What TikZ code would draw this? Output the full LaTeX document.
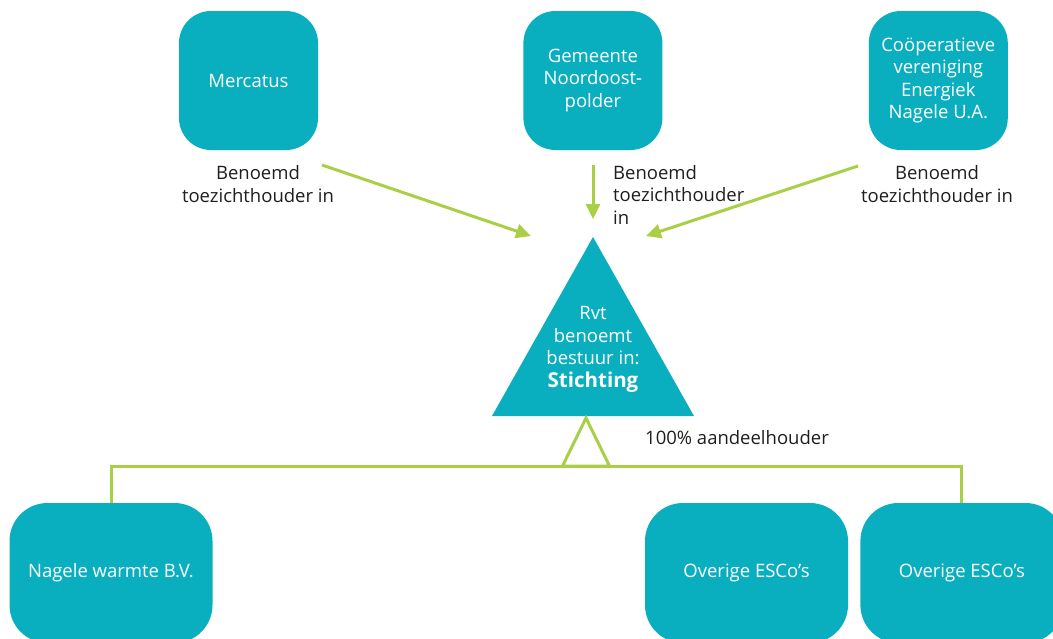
\documentclass[tikz,border=0pt]{standalone}
\usepackage{fontspec}
\setmainfont{Open Sans}
\usetikzlibrary{arrows.meta,positioning}
\definecolor{rvtteal}{HTML}{0AAFBF}
\definecolor{rvtgreen}{HTML}{A9CF46}
\definecolor{rvttext}{HTML}{1E1E1E}

\begin{document}
\begin{tikzpicture}[
  x=1pt, y=-1pt,
  node distance=12pt and 205pt,
  party/.style={fill=rvtteal, rounded corners=32pt, minimum width=139pt, minimum height=139pt,
                align=center, text=white, inner sep=2pt, font=\fontsize{18.5}{22.5}\selectfont},
  firm/.style={party, minimum width=203pt, minimum height=140pt, rounded corners=38pt},
  remark/.style={align=center, text=rvttext, inner sep=0pt, font=\fontsize{18.5}{22.5}\selectfont},
  arrow/.style={-{Triangle[length=15pt, width=14pt]}, line width=3pt, draw=rvtgreen},
  link/.style={draw=rvtgreen, line width=3pt}
]
\clip (0,0) rectangle (1053,638);

% shareholders on top
\node[party] (mercatus) at (248.5,80.5) {Mercatus};
\node[party, right=205pt of mercatus] (gemeente) {Gemeente\\Noordoost-\\polder};
\node[party, right=206pt of gemeente] (energiek) {Coöperatieve\\vereniging\\Energiek\\Nagele U.A.};

\node[remark] (benoemd-l) at (258,184) {Benoemd\\toezichthouder in};
\node[remark, align=left, anchor=west] (benoemd-m) at (613,194.5) {Benoemd\\toezichthouder\\in};
\node[remark] (benoemd-r) at (937,184) {Benoemd\\toezichthouder in};

% the foundation
\coordinate (rvt-apex) at (593,237);
\coordinate (rvt-right) at (694,416);
\coordinate (rvt-left) at (492,416);
\fill[rvtteal] (rvt-apex) -- (rvt-right) -- (rvt-left) -- cycle;
\node[remark, text=white] (stichting) at (593,349.5) {Rvt\\benoemt\\bestuur in:\\{\fontsize{20.5}{22.5}\selectfont\bfseries Stichting}};

\coordinate (mercatus-out) at (322,165);
\coordinate (mercatus-in) at (531,236);
\coordinate (gemeente-out) at (593,165);
\coordinate (gemeente-in) at (593,219);
\coordinate (energiek-out) at (858,166);
\coordinate (energiek-in) at (646,236);
\draw[arrow] (mercatus-out) -- (mercatus-in);
\draw[arrow] (gemeente-out) -- (gemeente-in);
\draw[arrow] (energiek-out) -- (energiek-in);

% companies below
\node[firm] (nagele) at (111,573) {Nagele warmte B.V.};
\node[firm] (esco-a) at (746.5,573) {Overige ESCo’s};
\node[firm, right=12pt of esco-a] (esco-b) {Overige ESCo’s};

\coordinate (bus) at (586,466);
\coordinate (own-top) at (586,418);
\draw[link, line join=miter] (own-top) -- (609.5,466) -- (562.5,466) -- cycle;
\draw[link] (nagele.north) |- (bus) -| (esco-b.north);
\node[remark, anchor=west] (aandeel) at (645,438) {100\% aandeelhouder};
\end{tikzpicture}
\end{document}
